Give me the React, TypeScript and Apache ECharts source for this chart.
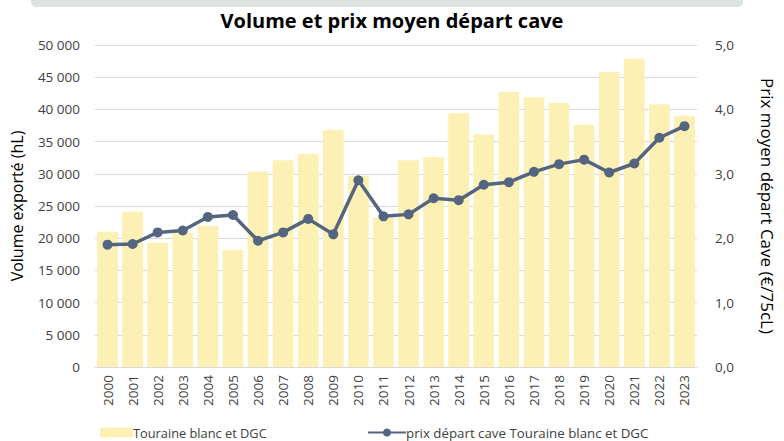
import React, { useEffect, useRef } from "react";
import * as echarts from "echarts";

const years = ["2000","2001","2002","2003","2004","2005","2006","2007","2008","2009","2010","2011","2012","2013","2014","2015","2016","2017","2018","2019","2020","2021","2022","2023"];
const volumes = [21000,24100,19300,20800,21900,18200,30300,32100,33100,36800,29700,23200,32100,32600,39400,36100,42700,41900,41000,37600,45800,47900,40800,39000];
const prices = [1.90,1.91,2.09,2.12,2.33,2.36,1.96,2.09,2.30,2.06,2.90,2.34,2.37,2.62,2.59,2.83,2.87,3.03,3.15,3.22,3.02,3.16,3.56,3.74];
const barName = "Touraine blanc et DGC";
const lineName = "prix départ cave Touraine blanc et DGC";
const titleText = "Volume et prix moyen départ cave";
const leftAxisName = "Volume exporté (hL)";
const rightAxisName = "Prix moyen départ Cave (€/75cL)";

const FONT = "'Open Sans', sans-serif";
const TXT = "#404040";

function fmtThousands(v: number): string {
  if (v === 0) return "0";
  const s = String(Math.round(v));
  return s.replace(/\B(?=(\d{3})+(?!\d))/g, "\u00a0");
}

export default function App() {
  const ref = useRef<HTMLDivElement>(null);
  useEffect(() => {
    if (!ref.current) return;
    const chart = echarts.init(ref.current, undefined, { renderer: "svg" });
    chart.setOption({
      animation: false,
      backgroundColor: "#ffffff",
      textStyle: { fontFamily: FONT },
      graphic: [
        {
          type: "rect",
          shape: { x: 31, y: -6, width: 712, height: 13, r: 5 },
          style: { fill: "#dde3df" },
        },
      ],
      title: {
        text: titleText,
        left: "center",
        top: 5,
        textStyle: { fontFamily: FONT, fontSize: 20, fontWeight: "bold", color: "#000000" },
      },
      grid: { left: 95, right: 77, top: 45, bottom: 74 },
      legend: [
        {
          data: [barName],
          left: 95,
          top: 421,
          itemWidth: 33,
          itemHeight: 10,
          itemGap: 4,
          textStyle: { fontFamily: FONT, fontSize: 12.8, color: TXT, padding: [0, 0, 0, -5] },
        },
        {
          data: [lineName],
          left: 362,
          top: 421,
          itemWidth: 38,
          itemHeight: 10,
          textStyle: { fontFamily: FONT, fontSize: 13.3, color: TXT, padding: [0, 0, 0, -5] },
        },
      ],
      xAxis: {
        type: "category",
        data: years,
        axisLine: { lineStyle: { color: "#d9d9d9", width: 1 } },
        axisTick: { show: false },
        axisLabel: { rotate: 90, fontSize: 13.5, color: TXT, margin: 8, fontFamily: FONT },
      },
      yAxis: [
        {
          type: "value",
          min: 0,
          max: 50000,
          interval: 5000,
          name: leftAxisName,
          nameLocation: "middle",
          nameGap: 70,
          nameTextStyle: { fontSize: 16, color: "#000000", fontFamily: FONT },
          axisLine: { show: false },
          axisTick: { show: false },
          axisLabel: { formatter: (v: number) => fmtThousands(v), fontSize: 13.5, color: TXT, margin: 15, fontFamily: FONT },
          splitLine: { lineStyle: { color: "#d9d9d9", width: 1 } },
        },
        {
          type: "value",
          min: 0,
          max: 5,
          interval: 1,
          name: rightAxisName,
          nameLocation: "middle",
          nameGap: 62,
          nameRotate: -90,
          nameTextStyle: { fontSize: 17, color: "#000000", fontFamily: FONT },
          axisLine: { show: false },
          axisTick: { show: false },
          axisLabel: { formatter: (v: number) => v.toFixed(1).replace(".", ","), fontSize: 13.5, color: TXT, margin: 18, fontFamily: FONT },
          splitLine: { show: false },
        },
      ],
      series: [
        {
          name: barName,
          type: "bar",
          data: volumes,
          yAxisIndex: 0,
          barCategoryGap: "17%",
          itemStyle: { color: "#fdf0b5" },
        },
        {
          name: lineName,
          type: "line",
          data: prices,
          yAxisIndex: 1,
          symbol: "circle",
          symbolSize: 10,
          lineStyle: { color: "#53657f", width: 3.5 },
          itemStyle: { color: "#53657f" },
        },
      ],
    });
    return () => chart.dispose();
  }, []);
  return <div ref={ref} style={{ width: 784, height: 441, position: "absolute", left: 0, top: 0 }} />;
}
